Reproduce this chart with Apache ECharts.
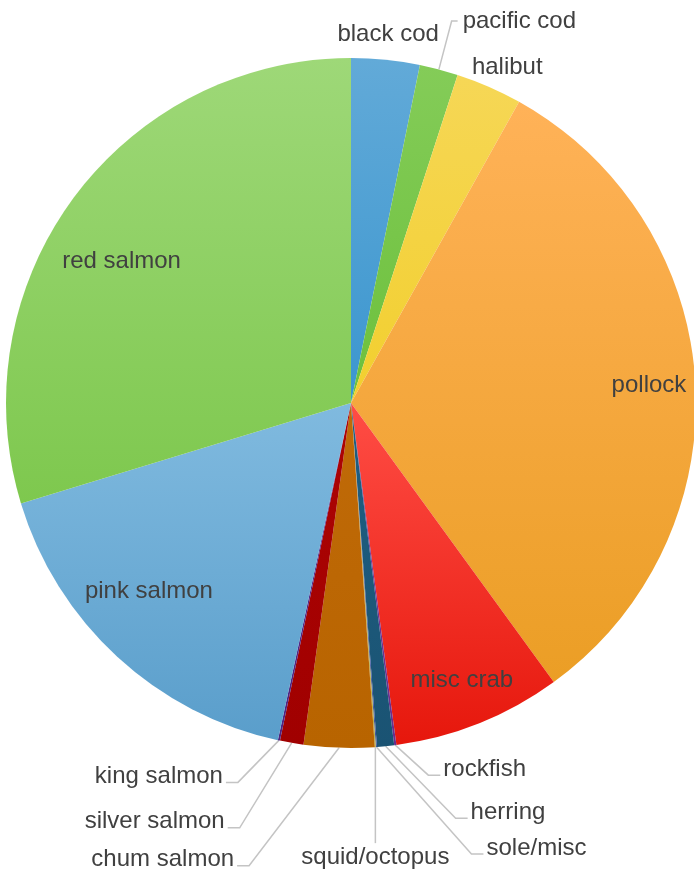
<!DOCTYPE html>
<html>
<head>
<meta charset="utf-8">
<script src="https://cdn.jsdelivr.net/npm/echarts@6/dist/echarts.min.js"></script>
<style>
  html, body { margin: 0; padding: 0; background: #ffffff; }
  #chart { width: 694px; height: 872px; }
</style>
</head>
<body>
<div id="chart"></div>
<script>
// Catch by species, in clockwise order from twelve o'clock (per-mille of total)
const species = ['black cod', 'pacific cod', 'halibut', 'pollock', 'misc crab', 'rockfish',
  'herring', 'sole/misc', 'squid/octopus', 'chum salmon', 'silver salmon', 'king salmon',
  'pink salmon', 'red salmon'];
const shares = [32, 18, 31, 319, 79, 1, 8, 0.5, 0.5, 33, 11, 1, 169, 297];

// Names written inside the wedge
const rimInside = ['pollock', 'misc crab'];
const deepInside = ['pink salmon', 'red salmon'];
// Names set just outside the rim without a leader line
const rimOutside = ['black cod', 'halibut'];
// Name hung straight below its slice
const droppedName = 'squid/octopus';

// Label layout tweaks, kept apart from the data:
// leader runs below the pie as [drop, sideways run] in px
const leaderRun = { 'rockfish': [30, 33], 'herring': [72, 70], 'sole/misc': [107, 95],
  'king salmon': [42, 41], 'silver salmon': [85, 52], 'chum salmon': [118, 90] };
// angular nudges (degrees, clockwise) and inward pull (px) for some names
const labelTurnDeg = { 'red salmon': -4.9, 'pink salmon': 4.3, 'halibut': 1.4 };
const labelPull = { 'red salmon': 7 };

// Light (top) and dark (bottom) shade of each slice
const topColors = ['#62aad8', '#84cc58', '#f6d756', '#ffb258', '#ff4d45', '#7b3b9e',
  '#1f5f82', '#3a4fa0', '#c9c25a', '#c06a08', '#ad0404', '#5b2c8e', '#80badf', '#9ed878'];
const bottomColors = ['#3b96cf', '#6cc03c', '#f2cf2e', '#eb9e25', '#e6170c', '#6a2c8c',
  '#1a5373', '#3a4fa0', '#b5ae48', '#b86400', '#a00000', '#4e2380', '#5a9ecb', '#7ec84e'];

const CENTER = [351, 403];
const R = 345;
const RIM_GAP = 25;     // distance of rim-outside names beyond the edge
const DROP = 110;       // how far the dropped name hangs below its slice
const TAIL = 12;        // horizontal tail of a leader line
const TEXT_LIFT = 6;    // text sits slightly above its leader tail
const textStyle = { color: '#404040', fontSize: 24, fontFamily: 'Liberation Sans, Arial, sans-serif' };

function shade(i) {
  return new echarts.graphic.LinearGradient(0, 0, 0, 1, [
    { offset: 0, color: topColors[i] },
    { offset: 1, color: bottomColors[i] }
  ]);
}

function turn(x, y, deg) {
  const a = deg * Math.PI / 180;
  return [x * Math.cos(a) - y * Math.sin(a), x * Math.sin(a) + y * Math.cos(a)];
}

function placeOutsideLabel(params) {
  const name = species[params.dataIndex];
  const pts = params.labelLinePoints;
  if (!pts) return;
  const p0 = pts[0];
  const dx = p0[0] - CENTER[0];
  const dy = p0[1] - CENTER[1];
  const len = Math.hypot(dx, dy) || 1;
  if (rimOutside.includes(name)) {
    const v = turn(dx / len * (R + RIM_GAP), dy / len * (R + RIM_GAP), labelTurnDeg[name] || 0);
    return {
      x: CENTER[0] + v[0],
      y: CENTER[1] + v[1],
      align: 'center',
      verticalAlign: 'middle'
    };
  }
  if (name === droppedName) {
    const y = p0[1] + DROP;
    return {
      x: p0[0],
      y: y,
      align: 'center',
      verticalAlign: 'middle',
      labelLinePoints: [p0, [p0[0], y - 14], [p0[0], y - 14]]
    };
  }
  if (leaderRun[name]) {
    // staircase below the pie: slanted run, then a short horizontal tail
    const drop = leaderRun[name][0];
    const run = leaderRun[name][1];
    const side = dx >= 0 ? 1 : -1;
    const y = p0[1] + drop;
    const ex = p0[0] + side * run;
    const tx = ex + side * TAIL;
    return {
      x: tx + side * 3,
      y: y - TEXT_LIFT,
      align: side > 0 ? 'left' : 'right',
      verticalAlign: 'middle',
      labelLinePoints: [p0, [ex, y], [tx, y]]
    };
  }
}

function turnInsideLabel(params) {
  const name = species[params.dataIndex];
  const deg = labelTurnDeg[name];
  if (deg === undefined) return;
  const rc = params.labelRect;
  const vx = rc.x + rc.width / 2 - CENTER[0];
  const vy = rc.y + rc.height / 2 - CENTER[1];
  const len = Math.hypot(vx, vy) || 1;
  const k = (len - (labelPull[name] || 0)) / len;
  const v = turn(vx * k, vy * k, deg);
  return {
    x: CENTER[0] + v[0],
    y: CENTER[1] + v[1],
    align: 'center',
    verticalAlign: 'middle'
  };
}

function insideRing(r0, names) {
  return {
    type: 'pie',
    center: CENTER,
    radius: [r0, R],
    startAngle: 90,
    clockwise: true,
    silent: true,
    emphasis: { disabled: true },
    itemStyle: { color: 'rgba(0,0,0,0)' },
    label: Object.assign({ position: 'inside' }, textStyle),
    labelLine: { show: false },
    labelLayout: turnInsideLabel,
    data: species.map((name, i) => ({
      name: name,
      value: shares[i],
      label: { show: names.includes(name) }
    }))
  };
}

const chart = echarts.init(document.getElementById('chart'), null, { renderer: 'canvas' });

const insideAll = rimInside.concat(deepInside);

chart.setOption({
  animation: false,
  backgroundColor: '#ffffff',
  series: [
    {
      // the pie itself, with leader-line labels for the thin slices
      type: 'pie',
      center: CENTER,
      radius: [0, R],
      startAngle: 90,
      clockwise: true,
      avoidLabelOverlap: false,
      emphasis: { disabled: true },
      label: Object.assign({ show: true, position: 'outside' }, textStyle),
      labelLine: { show: true, length: 25, length2: 12, smooth: false,
        lineStyle: { color: '#c4c4c4', width: 1.5 } },
      labelLayout: placeOutsideLabel,
      data: species.map((name, i) => {
        const inside = insideAll.includes(name);
        const item = {
          name: name,
          value: shares[i],
          itemStyle: { color: shade(i) },
          label: { show: !inside },
          labelLine: { show: !inside && !rimOutside.includes(name) }
        };
        if (name === 'pacific cod') {
          item.labelLine.length = 50;
          item.labelLine.length2 = 6;
        }
        return item;
      })
    },
    // transparent rings that carry the in-wedge names
    insideRing(246, rimInside),
    insideRing(202, deepInside)
  ]
});
</script>
</body>
</html>
